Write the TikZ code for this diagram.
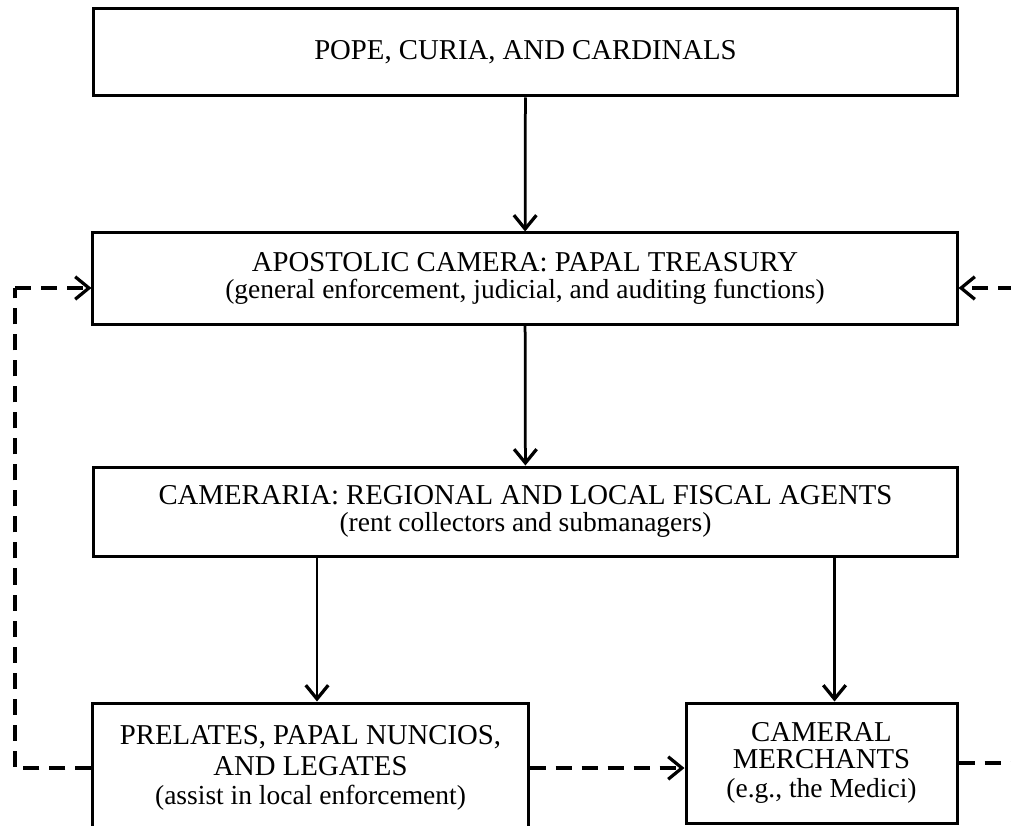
\documentclass[tikz,border=0pt]{standalone}
\usepackage{fontspec}
\setmainfont{Liberation Serif}
\usetikzlibrary{arrows.meta}
\newcommand\subline[1]{{\fontsize{11}{12}\selectfont #1}}
\begin{document}
\begin{tikzpicture}[x=0.4pt,y=-0.4pt,
  box/.style={draw,line width=1.2pt,inner sep=0pt,align=center,font=\fontsize{11.5}{13}\selectfont},
  arr/.style={line width=1.1pt,-{Straight Barb[length=5.5pt,width=9pt,line width=1.3pt]}},
  dsh/.style={line width=1.3pt,dash pattern=on 6.4pt off 4pt}]
\useasboundingbox (0,0) rectangle (1011,825);
\clip (0,0) rectangle (1011,825);
\node[box,minimum width=345.6pt,minimum height=34.8pt] (pope) at (525.5,52.5) {POPE, CURIA, AND CARDINALS};
\node[box,minimum width=345.6pt,minimum height=36.4pt] (camera) at (525,278.5) {APOSTOLIC CAMERA: PAPAL TREASURY\\[-2.5pt]\subline{(general enforcement, judicial, and auditing functions)}};
\node[box,minimum width=345.6pt,minimum height=35.6pt] (cameraria) at (525.5,511.5) {CAMERARIA: REGIONAL AND LOCAL FISCAL AGENTS\\[-2.5pt]\subline{(rent collectors and submanagers)}};
\node[box,minimum width=174pt,minimum height=52pt] (prelates) at (310.5,768) {PRELATES, PAPAL NUNCIOS,\\[-0.5pt]AND LEGATES\\[-1.5pt]\subline{(assist in local enforcement)}};
\node[box,minimum width=108.4pt,minimum height=48pt] (merchants) at (821.5,763) {CAMERAL\\[-2pt]MERCHANTS\\[-1.5pt]\subline{(e.g., the Medici)}};
\coordinate (lft) at (15,288);
\coordinate (rgt) at (1040,288);
\draw[arr] (pope) -- (camera);
\draw[arr] (camera) -- (cameraria);
\draw[arr] ([xshift=2.6pt]cameraria.south -| prelates.north) -- ([xshift=2.6pt]prelates.north);
\draw[arr] ([xshift=5.2pt]cameraria.south -| merchants.north) -- ([xshift=5.2pt]merchants.north);
\draw[dsh] (prelates.west) -| (lft);
\draw[arr,dsh] (lft) -- (lft -| camera.west);
\draw[arr,dsh] (prelates.east) -- (merchants.west |- prelates.east);
\draw[dsh] (merchants.east) -- (merchants.east -| rgt) -- (rgt);
\draw[arr,dsh] (rgt) -- (rgt -| camera.east);
\end{tikzpicture}
\end{document}
